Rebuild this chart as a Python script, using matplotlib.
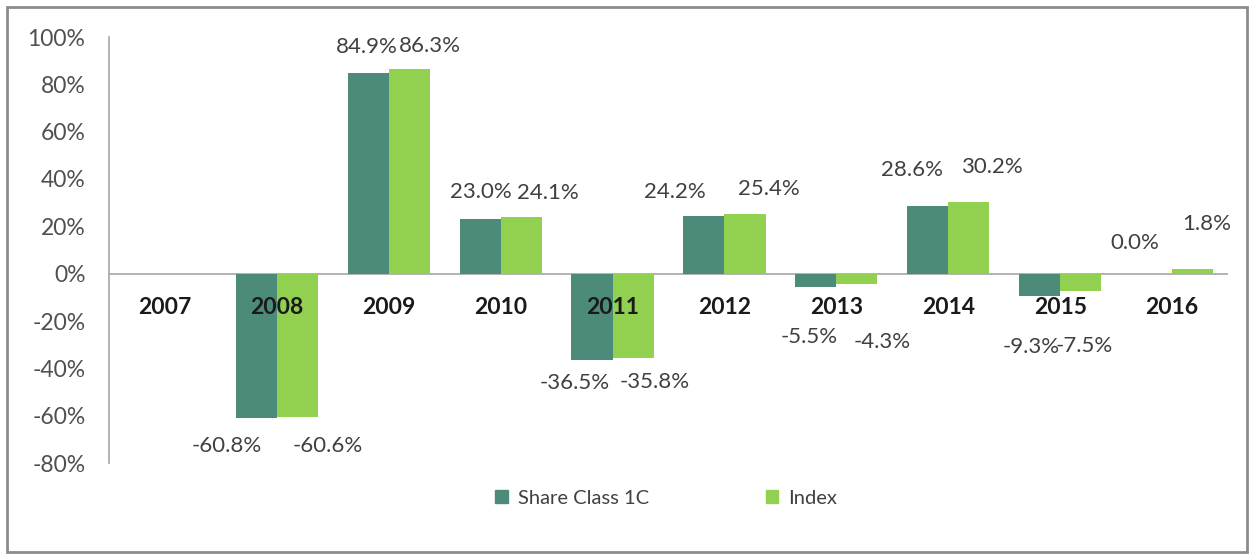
import matplotlib
matplotlib.use("Agg")
import matplotlib.pyplot as plt
from matplotlib.patches import Rectangle, Patch
import numpy as np

years = ["2007", "2008", "2009", "2010", "2011", "2012", "2013", "2014", "2015", "2016"]
share_class = [None, -60.8, 84.9, 23.0, -36.5, 24.2, -5.5, 28.6, -9.3, 0.0]
index_vals = [None, -60.6, 86.3, 24.1, -35.8, 25.4, -4.3, 30.2, -7.5, 1.8]
y_ticks = [-80, -60, -40, -20, 0, 20, 40, 60, 80, 100]

# label offsets in pixels (dx, dy) from bar end
share_off = [None, (-30, -28), (-1, 26), (1, 27), (-17, -23), (-29, 24), (-7, -50), (-16, 36), (-8, -51), (-17, 31)]
index_off = [None, (30, -29), (21, 23), (27, 24), (22, -24), (24, 25), (25, -58), (23, 35), (4, -55), (14, 45)]

dark = "#4C8A79"
light = "#92D050"
plt.rcParams['font.family'] = ['Lato', 'DejaVu Sans']

W, H = 1253, 554
fig = plt.figure(figsize=(W / 100, H / 100), dpi=100)
ax = fig.add_axes([109 / W, 1 - 463 / H, (1228 - 109) / W, (463 - 37) / H])

x = np.arange(len(years))
bw = 0.367
sv = [np.nan if v is None else v for v in share_class]
iv = [np.nan if v is None else v for v in index_vals]
ax.bar(x - bw / 2, sv, bw, color=dark, label="Share Class 1C", zorder=2)
ax.bar(x + bw / 2, iv, bw, color=light, label="Index", zorder=2)

for i in range(len(years)):
    for vals, offs, sh in ((share_class, share_off, -bw / 2), (index_vals, index_off, bw / 2)):
        v = vals[i]
        if v is None:
            continue
        dx, dy = offs[i]
        ax.annotate(f"{v:.1f}%", (x[i] + sh, v), xytext=(dx, dy), textcoords="offset pixels",
                    ha="center", va="center", fontsize=16, color="#404040")
    ax.annotate(years[i], (x[i], 0), xytext=(0, -34), textcoords="offset pixels",
                ha="center", va="center", fontsize=16.5, fontweight="bold", color="#1a1a1a", zorder=3)

ax.set_xlim(-0.5, len(years) - 0.5)
ax.set_ylim(-80, 100)
ax.set_yticks(y_ticks)
ax.set_yticklabels([f"{t}%" for t in y_ticks])
ax.tick_params(axis='y', length=0, pad=17, labelsize=16.5, labelcolor="#505050")
ax.set_xticks([])
for s in ("top", "right", "bottom"):
    ax.spines[s].set_visible(False)
ax.spines["left"].set_color("#a6a6a6")
ax.spines["left"].set_linewidth(1.2)
ax.axhline(0, color="#a6a6a6", linewidth=1.2, zorder=1)

handles = [Patch(color=dark, label="Share Class 1C"), Patch(color=light, label="Index")]
fig.legend(handles=handles, loc="center", bbox_to_anchor=(666 / W, 1 - 498 / H), ncol=2,
           frameon=False, fontsize=14.5, handlelength=0.6, handleheight=0.6,
           handletextpad=0.5, columnspacing=5.8, labelcolor="#404040")

fig.patches.append(Rectangle((7 / W, 1 - 552 / H), (1247 - 7) / W, (552 - 7) / H,
                             transform=fig.transFigure, fill=False, edgecolor="#8c8c8c", linewidth=2))

fig.savefig("out.png", dpi=100)
